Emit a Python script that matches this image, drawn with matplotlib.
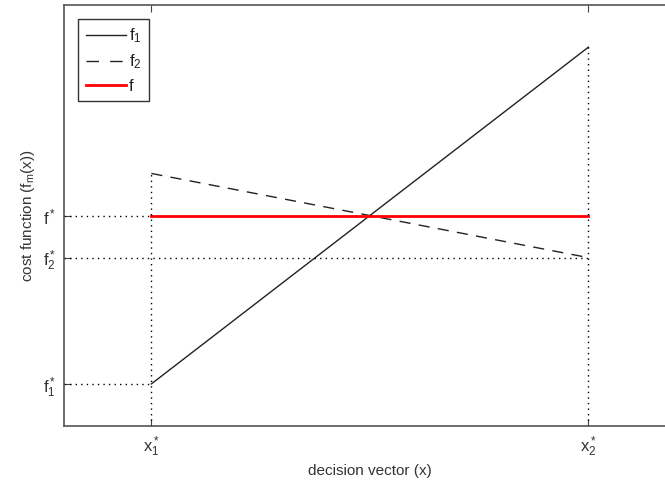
import matplotlib
matplotlib.use('Agg')
import matplotlib.pyplot as plt

plt.rcParams['font.family'] = ['Liberation Sans', 'DejaVu Sans']
plt.rcParams['mathtext.fontset'] = 'custom'
plt.rcParams['mathtext.rm'] = 'Liberation Sans'
plt.rcParams['mathtext.it'] = 'Liberation Sans'

# decision points and objective values
x_opt = [1, 6]
x_labels = ['$\\mathregular{x_1^*}$', '$\\mathregular{x_2^*}$']
f1_vals = [1, 9]
f2_vals = [6, 4]
f_vals = [5, 5]
y_ticks = [1, 4, 5]
y_labels = ['$\\mathregular{f_1^*}$', '$\\mathregular{f_2^*}$', '$\\mathregular{f^*}$']

fig = plt.figure(figsize=(6.65, 4.86), dpi=100)
ax = fig.add_axes([0.0962, 0.1235, 0.920, 0.866])

ax.plot(x_opt, f1_vals, color='#222222', lw=1, label='f$_1$')
ax.plot(x_opt, f2_vals, color='#222222', lw=1, dashes=(8, 6), label='f$_2$')
ax.plot(x_opt, f_vals, color='#ff0000', lw=2, label='f')

# guide lines to the axes
dot = dict(color='black', lw=1, linestyle=(0, (1, 3)))
ax.plot([x_opt[0], x_opt[0]], [0, f2_vals[0]], **dot)
ax.plot([x_opt[1], x_opt[1]], [0, f1_vals[1]], **dot)
ax.plot([0, x_opt[0]], [f1_vals[0], f1_vals[0]], **dot)
ax.plot([0, x_opt[0]], [f_vals[0], f_vals[0]], **dot)
ax.plot([0, x_opt[1]], [f2_vals[1], f2_vals[1]], **dot)

ax.set_xlim(0, 7)
ax.set_ylim(0, 10)
ax.set_xticks(x_opt)
ax.set_xticklabels(x_labels, fontsize=12)
ax.set_yticks(y_ticks)
ax.set_yticklabels(y_labels, fontsize=12)
ax.tick_params(direction='in', top=True, right=True, length=5, color='#444444',
               labelcolor='#333333', pad=6)
for s in ax.spines.values():
    s.set_color('#555555')
    s.set_linewidth(1.2)

ax.set_xlabel('decision vector (x)', fontsize=11, color='#333333')
ax.set_ylabel('cost function (f$_m$(x))', fontsize=11, color='#333333')

leg = ax.legend(loc='upper left', bbox_to_anchor=(0.023, 0.967), fontsize=12,
                handlelength=2.45, handletextpad=0.15, borderpad=0.45,
                labelspacing=0.45, borderaxespad=0, fancybox=False, framealpha=1)
leg.get_frame().set_edgecolor('#333333')
leg.get_frame().set_linewidth(1)
leg.get_lines()[1].set_dashes((9, 8))
for t in leg.get_texts():
    t.set_color('#222222')

fig.savefig('out.png', dpi=100)
